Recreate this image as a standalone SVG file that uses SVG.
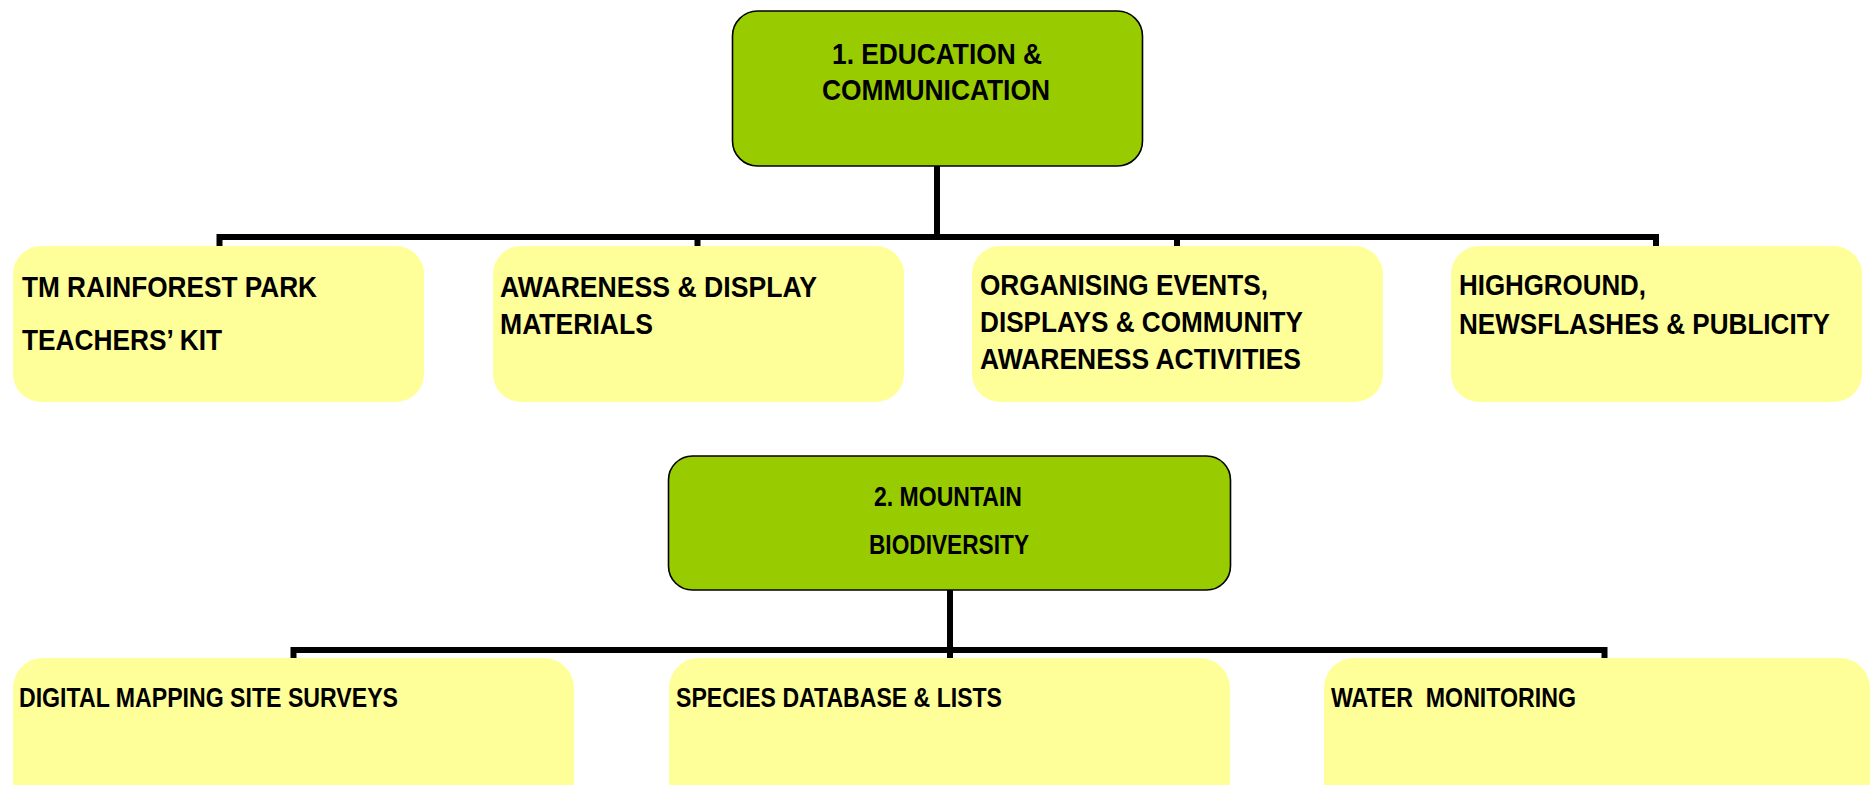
<svg xmlns="http://www.w3.org/2000/svg" width="1872" height="785" viewBox="0 0 1872 785">
<style>
.bg{fill:#ffffff}
.main{fill:#99CC00;stroke:#000000;stroke-width:1.6}
.sub{fill:#FFFF99;stroke:none}
.conn{fill:none;stroke:#000000;stroke-width:6;stroke-linejoin:miter;stroke-linecap:butt}
text{font-family:"Liberation Sans Narrow","Liberation Sans",Arial,sans-serif;font-weight:bold;fill:#000000}
.t1{font-size:30px}
.t2{font-size:27px}
.c{text-anchor:middle}
</style>
<rect class="bg" x="0" y="0" width="1872" height="785"/>
<g id="connectors">
  <path class="conn" d="M937 166 V237"/>
  <path class="conn" d="M219.5 248 V237 H1656 V248"/>
  <path class="conn" d="M697.5 237 V248"/>
  <path class="conn" d="M1177 237 V248"/>
  <path class="conn" d="M950 590 V659"/>
  <path class="conn" d="M293.5 659 V650 H1604.5 V659"/>
</g>
<g id="node-education">
  <rect class="main" x="732.5" y="11" width="410" height="155" rx="25" ry="25"/>
  <text class="t1 c" x="937" y="64" textLength="210" lengthAdjust="spacingAndGlyphs">1. EDUCATION &amp;</text>
  <text class="t1 c" x="936" y="100" textLength="228" lengthAdjust="spacingAndGlyphs">COMMUNICATION</text>
</g>
<g id="node-teachers-kit">
  <rect class="sub" x="13" y="246" width="411" height="156" rx="28" ry="28"/>
  <text class="t1" x="22" y="297" textLength="295" lengthAdjust="spacingAndGlyphs">TM RAINFOREST PARK</text>
  <text class="t1" x="22" y="350" textLength="200" lengthAdjust="spacingAndGlyphs">TEACHERS’ KIT</text>
</g>
<g id="node-awareness">
  <rect class="sub" x="493" y="246" width="411" height="156" rx="28" ry="28"/>
  <text class="t1" x="500" y="297" textLength="317" lengthAdjust="spacingAndGlyphs">AWARENESS &amp; DISPLAY</text>
  <text class="t1" x="500" y="334" textLength="153" lengthAdjust="spacingAndGlyphs">MATERIALS</text>
</g>
<g id="node-events">
  <rect class="sub" x="972" y="246" width="411" height="156" rx="28" ry="28"/>
  <text class="t1" x="980" y="295" textLength="288" lengthAdjust="spacingAndGlyphs">ORGANISING EVENTS,</text>
  <text class="t1" x="980" y="332" textLength="323" lengthAdjust="spacingAndGlyphs">DISPLAYS &amp; COMMUNITY</text>
  <text class="t1" x="980" y="369" textLength="321" lengthAdjust="spacingAndGlyphs">AWARENESS ACTIVITIES</text>
</g>
<g id="node-highground">
  <rect class="sub" x="1451" y="246" width="411" height="156" rx="28" ry="28"/>
  <text class="t1" x="1459" y="295" textLength="187" lengthAdjust="spacingAndGlyphs">HIGHGROUND,</text>
  <text class="t1" x="1459" y="334" textLength="371" lengthAdjust="spacingAndGlyphs">NEWSFLASHES &amp; PUBLICITY</text>
</g>
<g id="node-biodiversity">
  <rect class="main" x="668.5" y="456" width="562" height="134" rx="24" ry="24"/>
  <text class="t2 c" x="948" y="506" textLength="148" lengthAdjust="spacingAndGlyphs">2. MOUNTAIN</text>
  <text class="t2 c" x="949" y="554" textLength="160" lengthAdjust="spacingAndGlyphs">BIODIVERSITY</text>
</g>
<g id="node-mapping">
  <rect class="sub" x="13" y="658" width="561" height="160" rx="30" ry="30"/>
  <text class="t2" x="19" y="707" textLength="379" lengthAdjust="spacingAndGlyphs">DIGITAL MAPPING SITE SURVEYS</text>
</g>
<g id="node-species">
  <rect class="sub" x="669" y="658" width="561" height="160" rx="30" ry="30"/>
  <text class="t2" x="676" y="707" textLength="326" lengthAdjust="spacingAndGlyphs">SPECIES DATABASE &amp; LISTS</text>
</g>
<g id="node-water">
  <rect class="sub" x="1324" y="658" width="546" height="160" rx="30" ry="30"/>
  <text class="t2" x="1331" y="707" textLength="245" lengthAdjust="spacingAndGlyphs" xml:space="preserve">WATER  MONITORING</text>
</g>
</svg>
